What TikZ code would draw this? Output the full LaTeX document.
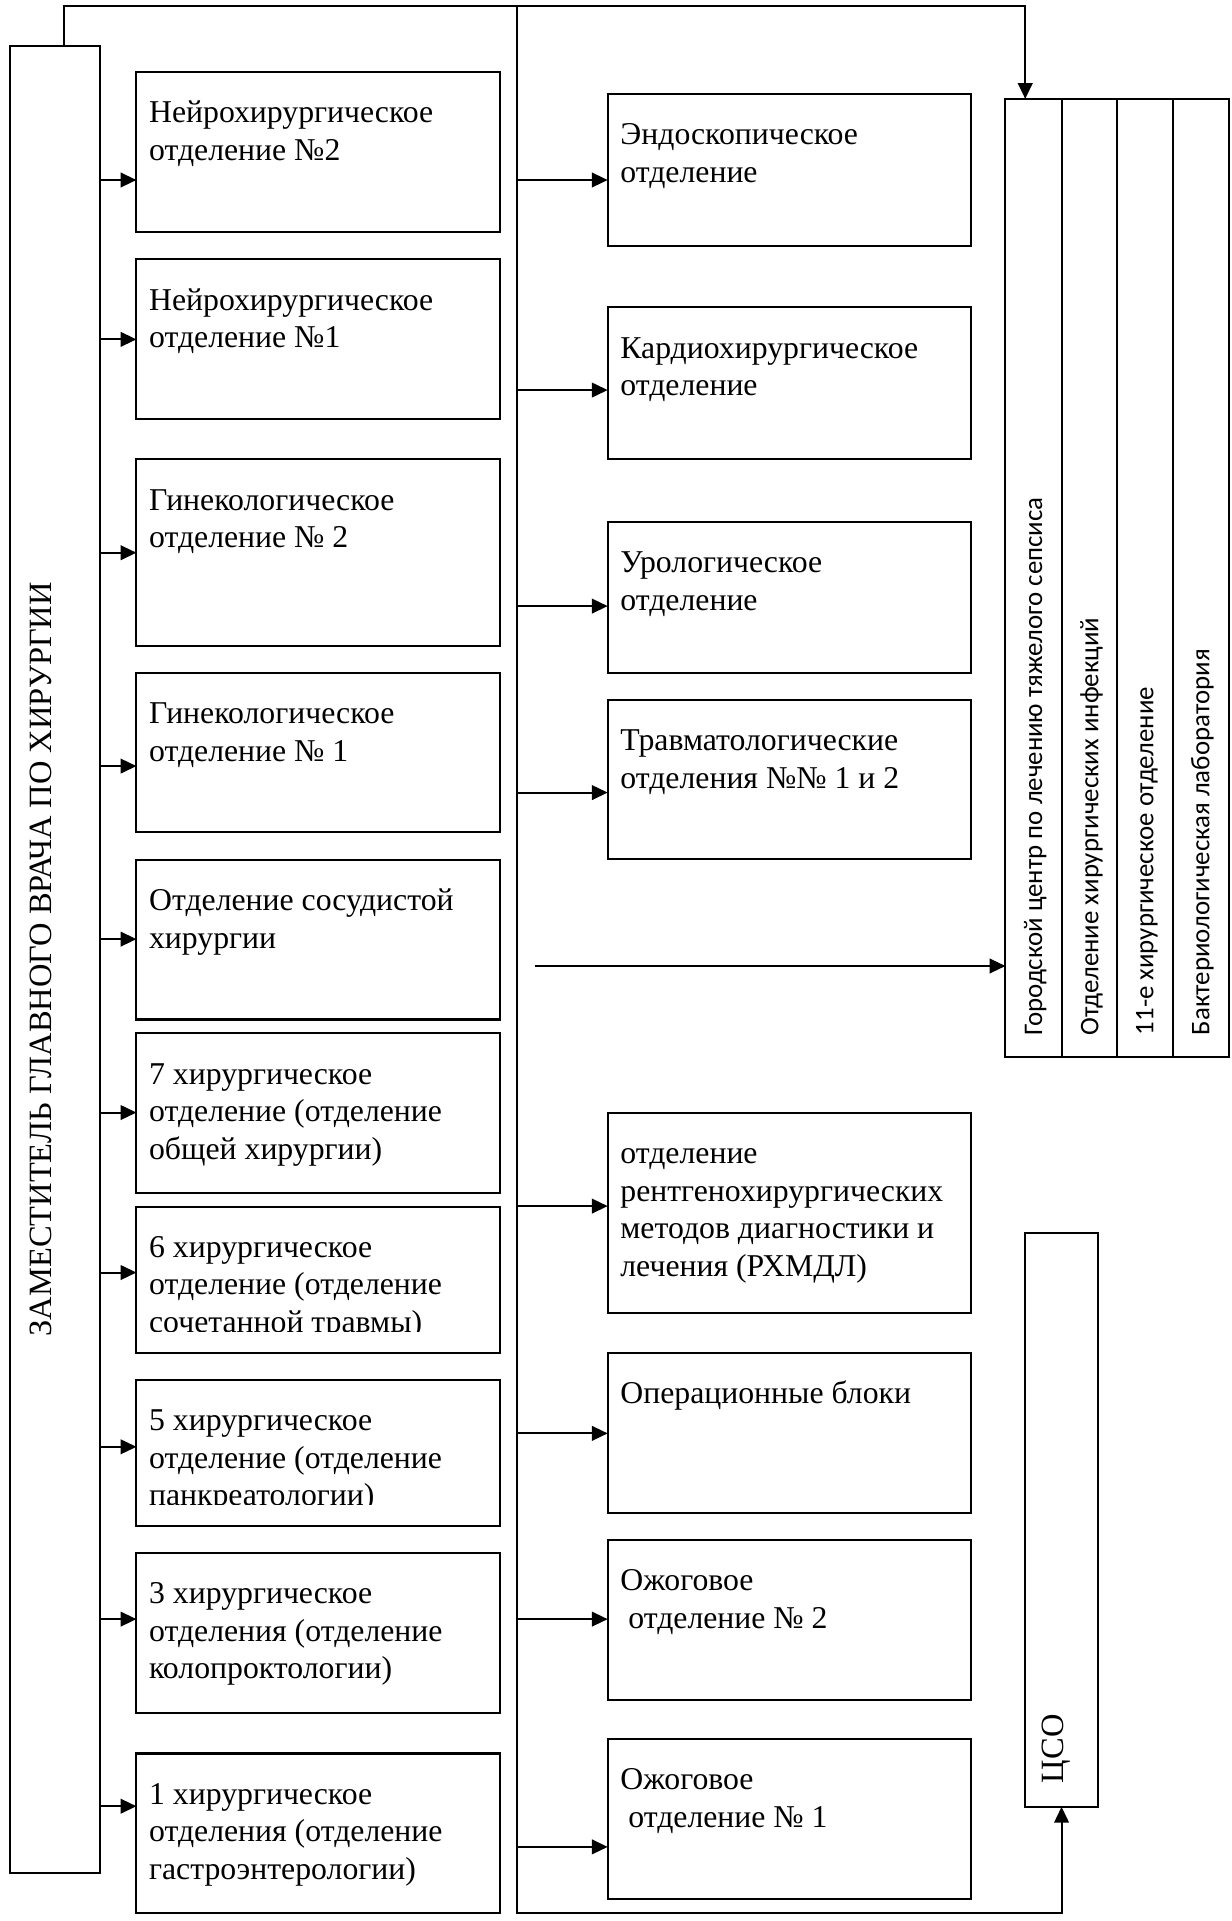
\documentclass[tikz,border=0pt]{standalone}
\usepackage{fontspec}
\setmainfont{Liberation Serif}
\newfontfamily\calibrifont{Carlito}
\usetikzlibrary{arrows.meta,fit}
\begin{document}
\begin{tikzpicture}[x=0.5pt,y=-0.5pt,
  box/.style={draw,line width=0.85pt,inner sep=0pt,outer sep=0pt},
  ln/.style={line width=0.85pt},
  arr/.style={line width=0.85pt,-{Triangle[length=6.5pt,width=6pt]}},
  txt/.style={inner sep=0pt,anchor=base west,font=\fontsize{13pt}{15.4pt}\selectfont},
  vtxt/.style={inner sep=0pt,anchor=base west,rotate=90,font=\fontsize{13.3pt}{15.4pt}\selectfont},
  ctxt/.style={inner sep=0pt,anchor=base west,rotate=90,font=\calibrifont\fontsize{11pt}{13.2pt}\selectfont}]
\useasboundingbox (0,0) rectangle (1008,1573);

% main left box
\node[box,fit={(8.1,37.4)(81.9,1533.6)}] (zam) {};
\node[vtxt] (zamt) at (42.1,1094.6) {ЗАМЕСТИТЕЛЬ ГЛАВНОГО ВРАЧА ПО ХИРУРГИИ};

% left column
\node[box,fit={(111.7,59.2)(409.5,190.3)}] (l1) {};
\node[box,fit={(111.7,212.4)(409.5,343.1)}] (l2) {};
\node[box,fit={(111.7,376.2)(409.5,529)}] (l3) {};
\node[box,fit={(111.7,550.9)(409.5,681.6)}] (l4) {};
\node[box,fit={(111.7,704.3)(409.5,834.8)}] (l5) {};
\node[box,fit={(111.7,846.2)(409.5,976.7)}] (l6) {};
\node[box,fit={(111.7,988)(409.5,1108)}] (l7) {};
\node[box,fit={(111.7,1130)(409.5,1249.7)}] (l8) {};
\node[box,fit={(111.7,1271.5)(409.5,1402.6)}] (l9) {};
\node[box,fit={(111.7,1435.8)(409.5,1566.8)}] (l10) {};

\node[txt] (l1t) at ([xshift=5pt,yshift=-20.75pt]l1.north west) {\parbox[t]{160pt}{Нейрохирургическое\\отделение №2}};
\node[txt] (l2t) at ([xshift=5pt,yshift=-20.75pt]l2.north west) {\parbox[t]{160pt}{Нейрохирургическое\\отделение №1}};
\node[txt] (l3t) at ([xshift=5pt,yshift=-20.75pt]l3.north west) {\parbox[t]{160pt}{Гинекологическое\\отделение № 2}};
\node[txt] (l4t) at ([xshift=5pt,yshift=-20.75pt]l4.north west) {\parbox[t]{160pt}{Гинекологическое\\отделение № 1}};
\node[txt] (l5t) at ([xshift=5pt,yshift=-20.75pt]l5.north west) {\parbox[t]{160pt}{Отделение сосудистой\\хирургии}};
\node[txt] (l6t) at ([xshift=5pt,yshift=-20.75pt]l6.north west) {\parbox[t]{160pt}{7 хирургическое\\отделение (отделение\\общей хирургии)}};
\begin{scope}
  \clip (111.7,988) rectangle (409.5,1090);
  \node[txt] (l7t) at ([xshift=5pt,yshift=-20.75pt]l7.north west) {\parbox[t]{160pt}{6 хирургическое\\отделение (отделение\\сочетанной травмы)}};
\end{scope}
\begin{scope}
  \clip (111.7,1130) rectangle (409.5,1232);
  \node[txt] (l8t) at ([xshift=5pt,yshift=-20.75pt]l8.north west) {\parbox[t]{160pt}{5 хирургическое\\отделение (отделение\\панкреатологии)}};
\end{scope}
\node[txt] (l9t) at ([xshift=5pt,yshift=-20.75pt]l9.north west) {\parbox[t]{160pt}{3 хирургическое\\отделения (отделение\\колопроктологии)}};
\node[txt] (l10t) at ([xshift=5pt,yshift=-20.75pt]l10.north west) {\parbox[t]{160pt}{1 хирургическое\\отделения (отделение\\гастроэнтерологии)}};

% middle column
\node[box,fit={(497.6,77)(795.2,201.5)}] (m1) {};
\node[box,fit={(497.6,251.7)(795.2,375.9)}] (m2) {};
\node[box,fit={(497.6,427.2)(795.2,550.8)}] (m3) {};
\node[box,fit={(497.6,573.2)(795.2,703.7)}] (m4) {};
\node[box,fit={(497.6,911.2)(795.2,1075)}] (m5) {};
\node[box,fit={(497.6,1108)(795.2,1239)}] (m6) {};
\node[box,fit={(497.6,1261)(795.2,1392)}] (m7) {};
\node[box,fit={(497.6,1424)(795.2,1555)}] (m8) {};

\node[txt] (m1t) at ([xshift=5pt,yshift=-20.75pt]m1.north west) {\parbox[t]{160pt}{Эндоскопическое\\отделение}};
\node[txt] (m2t) at ([xshift=5pt,yshift=-20.75pt]m2.north west) {\parbox[t]{160pt}{Кардиохирургическое\\отделение}};
\node[txt] (m3t) at ([xshift=5pt,yshift=-20.75pt]m3.north west) {\parbox[t]{160pt}{Урологическое\\отделение}};
\node[txt] (m4t) at ([xshift=5pt,yshift=-20.75pt]m4.north west) {\parbox[t]{160pt}{Травматологические\\отделения №№ 1 и 2}};
\node[txt] (m5t) at ([xshift=5pt,yshift=-20.75pt]m5.north west) {\parbox[t]{160pt}{отделение\\рентгенохирургических\\методов диагностики и\\лечения (РХМДЛ)}};
\node[txt] (m6t) at ([xshift=5pt,yshift=-20.75pt]m6.north west) {\parbox[t]{160pt}{Операционные блоки}};
\node[txt] (m7t) at ([xshift=5pt,yshift=-20.75pt]m7.north west) {\parbox[t]{160pt}{Ожоговое\\\hspace*{0.25em}отделение № 2}};
\node[txt] (m8t) at ([xshift=5pt,yshift=-20.75pt]m8.north west) {\parbox[t]{160pt}{Ожоговое\\\hspace*{0.25em}отделение № 1}};

% right panel
\node[box,fit={(823.3,81)(869.4,865.5)}] (c1) {};
\node[box,fit={(869.4,81)(914.4,865.5)}] (c2) {};
\node[box,fit={(914.4,81)(960.3,865.5)}] (c3) {};
\node[box,fit={(960.3,81)(1006.7,865.5)}] (c4) {};
\node[ctxt] (c1t) at (853.3,848) {Городской центр по лечению тяжелого сепсиса};
\node[ctxt] (c2t) at (899.4,848) {Отделение хирургических инфекций};
\node[ctxt] (c3t) at (944.4,848) {11-е хирургическое отделение};
\node[ctxt] (c4t) at (990.3,848) {Бактериологическая лаборатория};

% CSO
\node[box,fit={(839.5,1010)(899,1479.5)}] (cso) {};
\node[vtxt] (csot) at (871,1460.4) {ЦСО};

% connectors
\coordinate (topL) at (52.4,4.6);
\coordinate (topR) at (839.5,4.6);
\coordinate (busT) at (423.6,4.6);
\coordinate (busB) at (423.6,1566.8);
\coordinate (fa) at (438.3,791);

\draw[arr] (zam.north -| topL) -- (topL) -- (topR) -- (c1.north -| topR);
\draw[arr] (busT) -- (busB) -- (cso.south |- busB) -- (cso.south);
\draw[arr] (fa) -- (c1.west |- fa);

\foreach \n/\y in {l1/147.4,l2/277.9,l3/452.6,l4/627.3,l5/769,l6/911,l7/1042,l8/1184.7,l9/1325.8,l10/1479}
  \draw[arr] (zam.east |- 0,\y) -- (\n.west |- 0,\y);
\foreach \n/\y in {m1/147.4,m2/319.4,m3/496.3,m4/649,m5/987.6,m6/1173.7,m7/1325.8,m8/1512.3}
  \draw[arr] (busT |- 0,\y) -- (\n.west |- 0,\y);
\end{tikzpicture}
\end{document}
